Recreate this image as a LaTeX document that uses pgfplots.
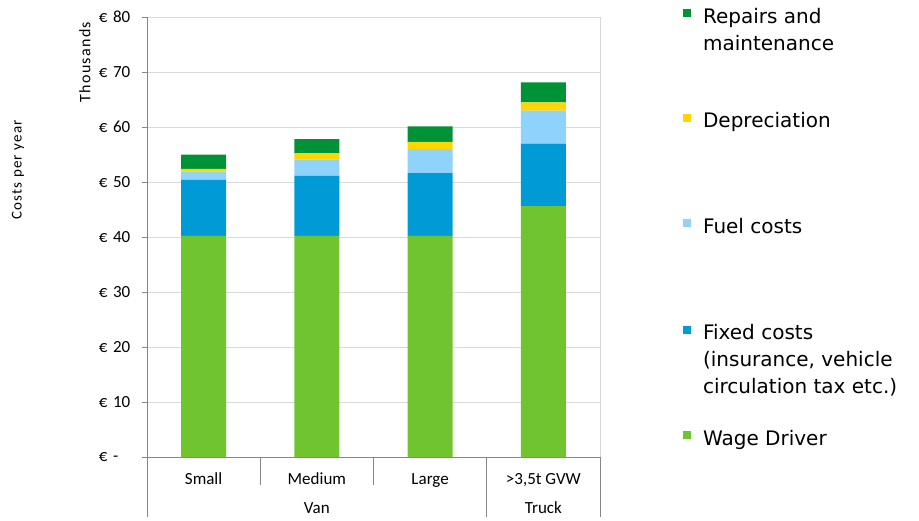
\documentclass[border=0pt]{standalone}
\usepackage{fontspec}
\setmainfont{Carlito}
\newfontfamily\legfont{DejaVu Sans}
\newfontfamily\spacedfont[LetterSpace=8]{Carlito}
\usepackage{pgfplots}
\pgfplotsset{compat=1.18}
\definecolor{cWage}{RGB}{112,196,47}
\definecolor{cFixed}{RGB}{0,155,214}
\definecolor{cFuel}{RGB}{143,210,250}
\definecolor{cDep}{RGB}{255,214,0}
\definecolor{cRep}{RGB}{0,146,54}
\definecolor{axgray}{RGB}{134,134,134}
\definecolor{gridgray}{RGB}{217,217,217}
\newcommand{\legrow}[2]{\raisebox{0pt}[#1][0pt]{\parbox[t]{220pt}{#2}}}
\begin{document}
\begin{tikzpicture}
\useasboundingbox (-147pt,-63pt) rectangle (772pt,457pt);
\begin{axis}[
  at={(0pt,0pt)}, anchor=south west,
  scale only axis, width=453pt, height=440pt,
  ybar stacked, bar width=45pt,
  xmin=-0.5, xmax=3.5, ymin=0, ymax=80,
  clip=false,
  axis x line*=bottom, axis y line*=left,
  axis line style={axgray, line width=0.9pt, -},
  xtick={0,1,2,3},
  xticklabels={Small,Medium,Large,{>3,5t GVW}},
  x tick style={draw=none},
  xticklabel style={font=\fontsize{17}{20}\selectfont, anchor=center, text height=11pt, text depth=3pt, yshift=-18pt},
  ytick={0,10,20,30,40,50,60,70,80},
  yticklabels={€ -,€ 10,€ 20,€ 30,€ 40,€ 50,€ 60,€ 70,€ 80},
  yticklabel style={font=\fontsize{17}{20}\selectfont, text width=33pt, align=left, anchor=east, inner xsep=0pt, xshift=-10pt},
  y tick style={axgray, line width=0.9pt},
  major tick length=5pt, tick align=outside,
  ymajorgrids, grid style={gridgray, line width=0.9pt},
  extra x ticks={3.5}, extra x tick labels={},
  extra x tick style={xmajorgrids=true, major tick length=0pt},
  reverse legend,
  legend style={draw=none, fill=none, inner sep=0pt, at={(1.183,1.0205)}, anchor=north west,
    font=\legfont\fontsize{20}{27}\selectfont, row sep=0pt, column sep=12pt,
    cells={anchor=base west}, nodes={inner sep=0pt}},
  legend image code/.code={\fill[#1] (0pt,6pt) rectangle (8pt,14pt);},
]
\addplot[fill=cWage, draw=none] coordinates {(0,40.2) (1,40.2) (2,40.2) (3,45.6)};
\addlegendentry{\legrow{104pt}{Wage Driver}}
\addplot[fill=cFixed, draw=none] coordinates {(0,10.2) (1,10.9) (2,11.4) (3,11.4)};
\addlegendentry{\legrow{105pt}{Fixed costs\\(insurance, vehicle\\circulation tax etc.)}}
\addplot[fill=cFuel, draw=none] coordinates {(0,1.5) (1,3.0) (2,4.4) (3,6.0)};
\addlegendentry{\legrow{104pt}{Fuel costs}}
\addplot[fill=cDep, draw=none] coordinates {(0,0.5) (1,1.1) (2,1.3) (3,1.5)};
\addlegendentry{\legrow{103pt}{Depreciation}}
\addplot[fill=cRep, draw=none] coordinates {(0,2.6) (1,2.6) (2,2.8) (3,3.6)};
\addlegendentry{\legrow{15pt}{Repairs and\\maintenance}}
\pgfplotsinvokeforeach{-0.5,0.5,1.5,2.5,3.5}{
  \draw[axgray, line width=0.9pt] (axis cs:#1,0) -- ++(0pt,-28pt);
}
\pgfplotsinvokeforeach{-0.5,2.5,3.5}{
  \draw[axgray, line width=0.9pt] (axis cs:#1,0) -- ++(0pt,-60pt);
}
\node[font=\fontsize{17}{20}\selectfont, text height=11pt, text depth=3pt] at (axis cs:1,0) [yshift=-52pt] {Van};
\node[font=\fontsize{17}{20}\selectfont, text height=11pt, text depth=3pt] at (axis cs:3,0) [yshift=-52pt] {Truck};
\end{axis}
\node[rotate=90, font=\spacedfont\fontsize{16}{18}\selectfont] at (-62pt,395pt) {Thousands};
\node[rotate=90, font=\spacedfont\fontsize{15}{18}\selectfont] at (-129pt,287pt) {Costs per year};
\end{tikzpicture}
\end{document}
